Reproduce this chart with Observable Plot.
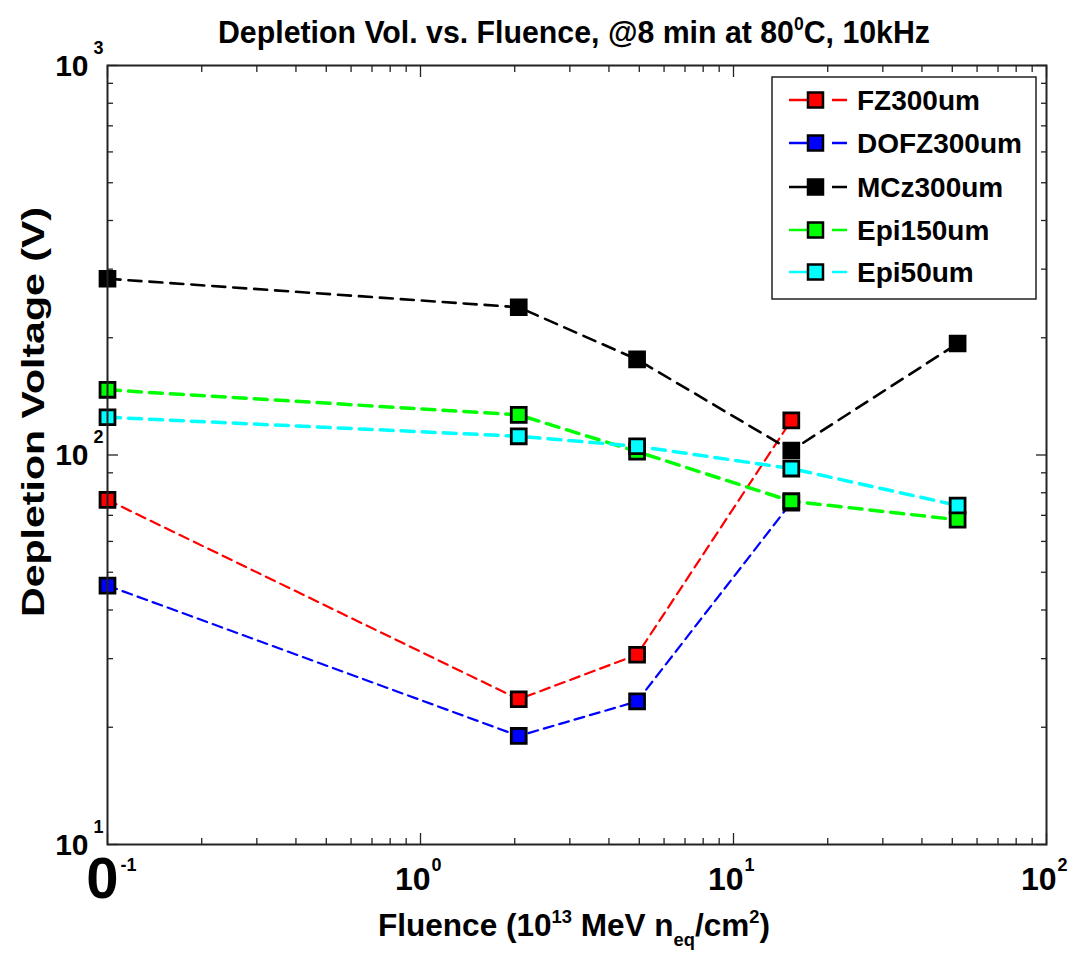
<!DOCTYPE html>
<html>
<head>
<meta charset="utf-8">
<script src="https://cdn.jsdelivr.net/npm/d3@7"></script>
<script src="https://cdn.jsdelivr.net/npm/@observablehq/plot@0.6"></script>
<style>
html,body{margin:0;padding:0;background:#fff;}
svg text{font-family:"Liberation Sans",Arial,sans-serif;}
</style>
</head>
<body>
<div id="chart"></div>
<script>
// ---- data ----
const fluence = [0.1, 2.06, 4.92, 15.3, 52];
const seriesNames = ["FZ300um", "DOFZ300um", "MCz300um", "Epi150um", "Epi50um"];
const seriesColors = ["#ff0000", "#0000ff", "#000000", "#00ff00", "#00ffff"];
const fzValues = [76.7, 23.6, 30.7, 122.7];
const dofzValues = [46.2, 19.0, 23.3, 75.5];
const mczValues = [283.5, 239.5, 175.9, 102.7, 193.3];
const epi150Values = [147, 126.8, 102, 76.1, 68.2];
const epi50Values = [125, 111.7, 105.3, 92.3, 74.2];
const xMajorTicks = [0.1, 1, 10, 100];
const yMajorTicks = [10, 100, 1000];

const seriesValues = [fzValues, dofzValues, mczValues, epi150Values, epi50Values];
const lineStyles = [
  {w: 2.2, dash: "10,6"},
  {w: 2.2, dash: "10,6"},
  {w: 2.6, dash: "13,8"},
  {w: 3.5, dash: "13,8"},
  {w: 3.5, dash: "13,8"}
];

const rows = [];
seriesNames.forEach((name, i) => {
  seriesValues[i].forEach((v, j) => rows.push({series: name, x: fluence[j], y: v}));
});

function minorTicks(lo, hi) {
  const out = [];
  for (let e = lo; e < hi; e++) for (let k = 2; k <= 9; k++) out.push(k * Math.pow(10, e));
  return out;
}
const xMinor = minorTicks(-1, 2);
const yMinor = minorTicks(1, 3);

const seriesMarks = [];
seriesNames.forEach((name, i) => {
  const d = rows.filter(r => r.series === name);
  seriesMarks.push(Plot.line(d, {x: "x", y: "y", stroke: seriesColors[i], strokeWidth: lineStyles[i].w, strokeDasharray: lineStyles[i].dash}));
  seriesMarks.push(Plot.dot(d, {x: "x", y: "y", symbol: "square", r: 8.4, fill: seriesColors[i], stroke: "#000", strokeWidth: 2.8}));
});

const noText = () => "";
const axisCommon = {label: null, tickFormat: noText, stroke: "#222", strokeWidth: 1.3};

const plot = Plot.plot({
  width: 1080,
  height: 953,
  marginLeft: 107,
  marginRight: 34,
  marginTop: 65,
  marginBottom: 109,
  style: {fontFamily: "Liberation Sans, Arial, sans-serif", color: "#000", background: "#fff"},
  x: {type: "log", domain: [0.1, 100]},
  y: {type: "log", domain: [10, 1000]},
  marks: [
    // inward ticks on all four sides
    Plot.axisX(xMinor, {...axisCommon, anchor: "bottom", tickSize: 6, dy: -6}),
    Plot.axisX(xMajorTicks, {...axisCommon, anchor: "bottom", tickSize: 11, dy: -11}),
    Plot.axisX(xMinor, {...axisCommon, anchor: "top", tickSize: 6, dy: 6}),
    Plot.axisX(xMajorTicks, {...axisCommon, anchor: "top", tickSize: 11, dy: 11}),
    Plot.axisY(yMinor, {...axisCommon, anchor: "left", tickSize: 6, dx: 6}),
    Plot.axisY(yMajorTicks, {...axisCommon, anchor: "left", tickSize: 11, dx: 11}),
    Plot.axisY(yMinor, {...axisCommon, anchor: "right", tickSize: 6, dx: -6}),
    Plot.axisY(yMajorTicks, {...axisCommon, anchor: "right", tickSize: 11, dx: -11}),
    // x tick labels 10^n
    Plot.text(xMajorTicks.slice(1), {x: d => d, text: () => "10", frameAnchor: "bottom", dy: 45, dx: 10, textAnchor: "end", lineAnchor: "bottom", fontSize: 32, fontWeight: "bold"}),
    Plot.text(xMajorTicks.slice(1), {x: d => d, text: d => String(Math.round(Math.log10(d))), frameAnchor: "bottom", dy: 26, dx: 11, textAnchor: "start", lineAnchor: "bottom", fontSize: 18, fontWeight: "bold"}),
    // the truncated first x label
    Plot.text(xMajorTicks.slice(0, 1), {x: d => d, text: () => "0", frameAnchor: "bottom", dy: 53, dx: 11, textAnchor: "end", lineAnchor: "bottom", fontSize: 58, fontWeight: "bold"}),
    Plot.text(xMajorTicks.slice(0, 1), {x: d => d, text: d => String(Math.round(Math.log10(d))), frameAnchor: "bottom", dy: 26, dx: 13, textAnchor: "start", lineAnchor: "bottom", fontSize: 18, fontWeight: "bold"}),
    // y tick labels 10^n
    Plot.text(yMajorTicks, {y: d => d, text: () => "10", frameAnchor: "left", dx: -19, dy: 10, textAnchor: "end", lineAnchor: "bottom", fontSize: 30, fontWeight: "bold"}),
    Plot.text(yMajorTicks, {y: d => d, text: d => String(Math.round(Math.log10(d))), frameAnchor: "left", dx: -14, dy: -12, textAnchor: "start", lineAnchor: "bottom", fontSize: 18, fontWeight: "bold"}),
    ...seriesMarks,
    Plot.frame({stroke: "#222", strokeWidth: 2})
  ]
});

document.getElementById("chart").appendChild(plot);
const svg = d3.select(plot);

// Title
const title = svg.append("text")
  .attr("x", 218).attr("y", 43)
  .attr("text-anchor", "start")
  .attr("font-size", 31).attr("font-weight", "bold")
  .attr("textLength", 712).attr("lengthAdjust", "spacingAndGlyphs");
title.append("tspan").text("Depletion Vol. vs. Fluence, @8 min at 80");
title.append("tspan").attr("dy", -13).attr("font-size", 18).text("0");
title.append("tspan").attr("dy", 13).text("C, 10kHz");

// X axis label
const xl = svg.append("text")
  .attr("x", 378).attr("y", 936)
  .attr("text-anchor", "start")
  .attr("font-size", 31).attr("font-weight", "bold")
  .attr("textLength", 392).attr("lengthAdjust", "spacingAndGlyphs");
xl.append("tspan").text("Fluence (10");
xl.append("tspan").attr("dy", -13).attr("font-size", 18).text("13");
xl.append("tspan").attr("dy", 13).text(" MeV n");
xl.append("tspan").attr("dy", 10).attr("font-size", 18).text("eq");
xl.append("tspan").attr("dy", -10).text("/cm");
xl.append("tspan").attr("dy", -13).attr("font-size", 18).text("2");
xl.append("tspan").attr("dy", 13).text(")");

// Y axis label
svg.append("text")
  .attr("transform", "translate(44,412) rotate(-90)")
  .attr("text-anchor", "middle")
  .attr("font-size", 32).attr("font-weight", "bold")
  .attr("textLength", 410).attr("lengthAdjust", "spacingAndGlyphs")
  .text("Depletion Voltage (V)");

// Legend
const lg = svg.append("g");
lg.append("rect").attr("x", 772).attr("y", 77).attr("width", 264).attr("height", 222)
  .attr("fill", "#fff").attr("stroke", "#222").attr("stroke-width", 1.5);
const rowY = [100, 143, 187, 230, 272];
seriesNames.forEach((name, i) => {
  const y = rowY[i];
  lg.append("line").attr("x1", 789).attr("x2", 808).attr("y1", y).attr("y2", y)
    .attr("stroke", seriesColors[i]).attr("stroke-width", 2.5);
  lg.append("line").attr("x1", 832).attr("x2", 847).attr("y1", y).attr("y2", y)
    .attr("stroke", seriesColors[i]).attr("stroke-width", 2.5);
  lg.append("rect").attr("x", 808).attr("y", y - 7.5).attr("width", 15).attr("height", 15)
    .attr("fill", seriesColors[i]).attr("stroke", "#000").attr("stroke-width", 2.5);
  lg.append("text").attr("x", 857).attr("y", y + 10)
    .attr("text-anchor", "start")
    .attr("font-size", 28).attr("font-weight", "bold").text(name);
});
</script>
</body>
</html>
